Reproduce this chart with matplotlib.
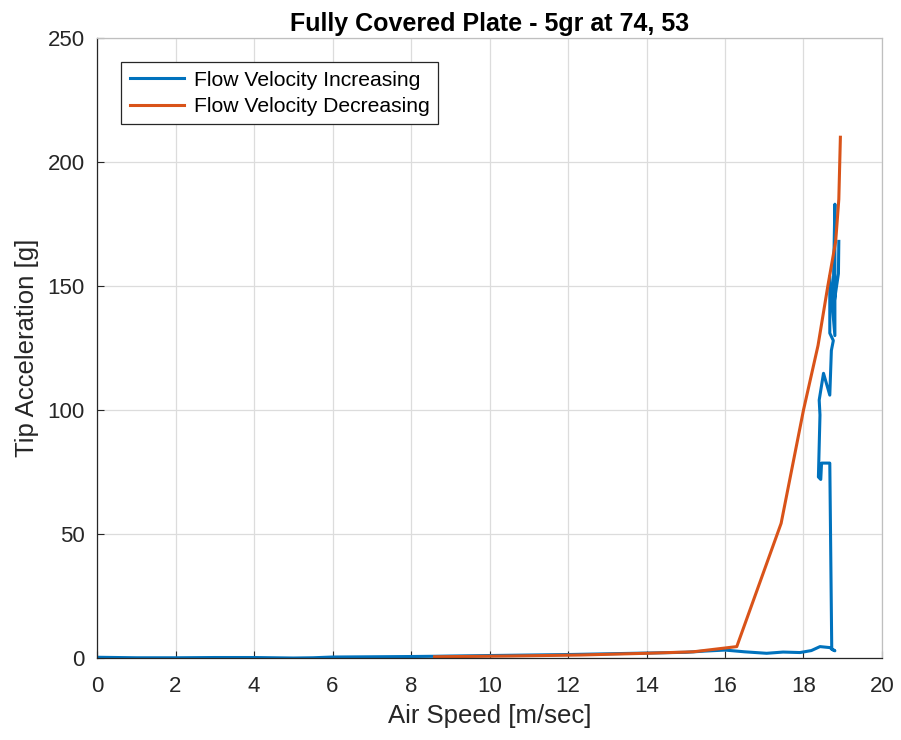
import numpy as np
import matplotlib.pyplot as plt

plt.rcParams['font.family'] = ['Liberation Sans', 'DejaVu Sans']

# Tip acceleration while the flow speed is ramped up
speed_up = [0.0, 0.5, 1.0, 2.0, 3.0, 4.0, 5.0, 5.5, 6.0, 7.0, 8.0, 8.6, 9.0, 10.0,
            11.0, 12.0, 13.0, 14.0, 15.0, 15.5, 16.0, 16.5, 17.06, 17.48, 17.91,
            18.2, 18.42, 18.67, 18.8, 18.72, 18.67, 18.46, 18.44, 18.38, 18.42,
            18.40, 18.51, 18.67, 18.71, 18.76, 18.67, 18.67, 18.80, 18.80, 18.75,
            18.89, 18.9]
accel_up = [0.3, 0.2, 0.1, 0.1, 0.2, 0.2, 0.0, 0.1, 0.4, 0.5, 0.6, 0.7, 0.8, 1.0,
            1.2, 1.4, 1.7, 2.0, 2.3, 2.8, 3.2, 2.5, 1.9, 2.4, 2.2,
            3.0, 4.6, 4.2, 2.9, 3.5, 78.6, 78.6, 72.0, 73.0, 98.0,
            104.0, 114.8, 106.0, 124.0, 128.0, 131.0, 154.0, 130.0, 183.0, 140.0,
            155.0, 168.0]

# Tip acceleration while the flow speed is ramped down
speed_down = [18.94, 18.9, 18.82, 18.62, 18.37, 18.0, 17.43, 16.3, 15.19, 14.0,
              12.3, 10.5, 8.6]
accel_down = [210.0, 185.0, 168.0, 150.0, 126.0, 100.0, 54.3, 4.6, 2.5, 1.9,
              1.2, 0.8, 0.5]

fig = plt.figure(figsize=(9.01, 7.40), dpi=100)
ax = fig.add_axes([0.1077, 0.1108, 0.8712, 0.8378])

ax.plot(speed_up, accel_up, color=(0.0, 0.447, 0.741), lw=2.2,
        label='Flow Velocity Increasing')
ax.plot(speed_down, accel_down, color=(0.85, 0.325, 0.098), lw=2.2,
        label='Flow Velocity Decreasing')

ax.set_xlim(0, 20)
ax.set_ylim(0, 250)
ax.set_xticks(np.arange(0, 21, 2))
ax.set_yticks(np.arange(0, 251, 50))
ax.grid(True, color='#dcdcdc', lw=0.9)
ax.set_axisbelow(True)
ax.tick_params(direction='in', length=5, colors='#262626', labelsize=16,
               top=False, right=False)
ax.tick_params(axis='x', pad=13)
ax.tick_params(axis='y', pad=9)
for s in ax.spines.values():
    s.set_color('#262626')
    s.set_linewidth(0.9)
for s in ['top', 'right']:
    ax.spines[s].set_color('#bfbfbf')

ax.set_xlabel('Air Speed [m/sec]', fontsize=18.5, color='#262626', labelpad=5)
ax.set_ylabel('Tip Acceleration [g]', fontsize=18.5, color='#262626', labelpad=6)
ax.set_title('Fully Covered Plate - 5gr at 74, 53', fontsize=18,
             fontweight='bold', pad=5)

leg = ax.legend(loc='upper left', bbox_to_anchor=(0.0306, 0.961),
                borderaxespad=0, fontsize=15.2,
                fancybox=False, edgecolor='#262626', framealpha=1,
                handlelength=2.6, borderpad=0.4, labelspacing=0.35,
                handletextpad=0.45)
leg.get_frame().set_linewidth(0.9)

fig.savefig('out.png', dpi=100)
